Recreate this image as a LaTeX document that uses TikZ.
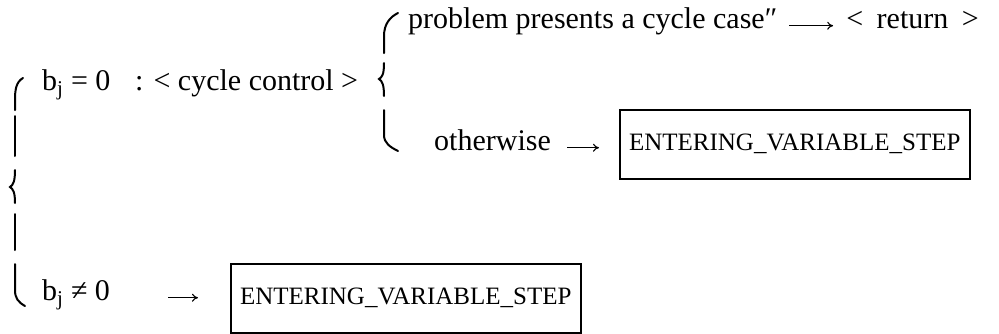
\documentclass[tikz,border=0pt]{standalone}
\usepackage{fontspec}
\setmainfont{Liberation Serif}
\usetikzlibrary{arrows.meta}
\begin{document}
\begin{tikzpicture}[x=1pt,y=-1pt,
  txt/.style={font=\fontsize{30}{36}\selectfont, inner sep=0pt, anchor=base west},
  stepbox/.style={draw, line width=1.6pt, minimum width=350pt, minimum height=69pt,
    inner sep=0pt, font=\fontsize{25}{30}\selectfont},
  arr/.style={-{To[length=6pt,width=8pt]}, line width=1.1pt},
  brace/.style={line width=2pt, line cap=round}]
\useasboundingbox (0,0) rectangle (999,333);

% outer brace, drawn as its separate pieces
\draw[brace] (23,78) .. controls (16,82) and (15,90) .. (15,100) -- (15,110);
\draw[brace] (15,116) -- (15,156);
\draw[brace] (15,170) .. controls (15,182) and (13,185) .. (10,187)
             .. controls (13,189) and (15,192) .. (15,203);
\draw[brace] (15,214) -- (15,250);
\draw[brace] (15,264) -- (15,290) .. controls (15,298) and (18,302) .. (25,306);

% inner brace
\draw[brace] (398,13) .. controls (390,17) and (384,24) .. (384,36) -- (384,53);
\draw[brace] (384,63) .. controls (384,75) and (382,77) .. (379,79)
             .. controls (382,81) and (384,84) .. (384,96);
\draw[brace] (384,110) -- (384,135) .. controls (384,143) and (390,147) .. (398,151);

% first rule: b_j = 0
\node[txt] (bz) at (42,90) {b\textsubscript{j} = 0};
\node[txt] (cc) at (135,90) {: < cycle control >};

% its two cases
\node[txt] (cyc) at (408,28) {problem presents a cycle case″};
\node[txt, anchor=base east] (ret) at (979,28) {<\hspace{0.45em}return\hspace{0.45em}>};
\node[txt] (ow) at (434,150) {otherwise};
\node[stepbox, anchor=north west] (box1) at (619,109) {ENTERING\_VARIABLE\_STEP};

% second rule: b_j != 0
\node[txt] (bn) at (42,300) {b\textsubscript{j} ≠ 0};
\node[stepbox, anchor=north west] (box2) at (230,263) {ENTERING\_VARIABLE\_STEP};

% arrows
\draw[arr] ([xshift=12pt]cyc.mid east) -- ([xshift=-13pt]cyc.mid east -| ret.west);
\draw[arr] ([xshift=16pt]ow.mid east) -- ([xshift=-20pt]ow.mid east -| box1.west);
\draw[arr] ([xshift=58pt]bn.mid east) -- ([xshift=-32pt]bn.mid east -| box2.west);
\end{tikzpicture}
\end{document}
